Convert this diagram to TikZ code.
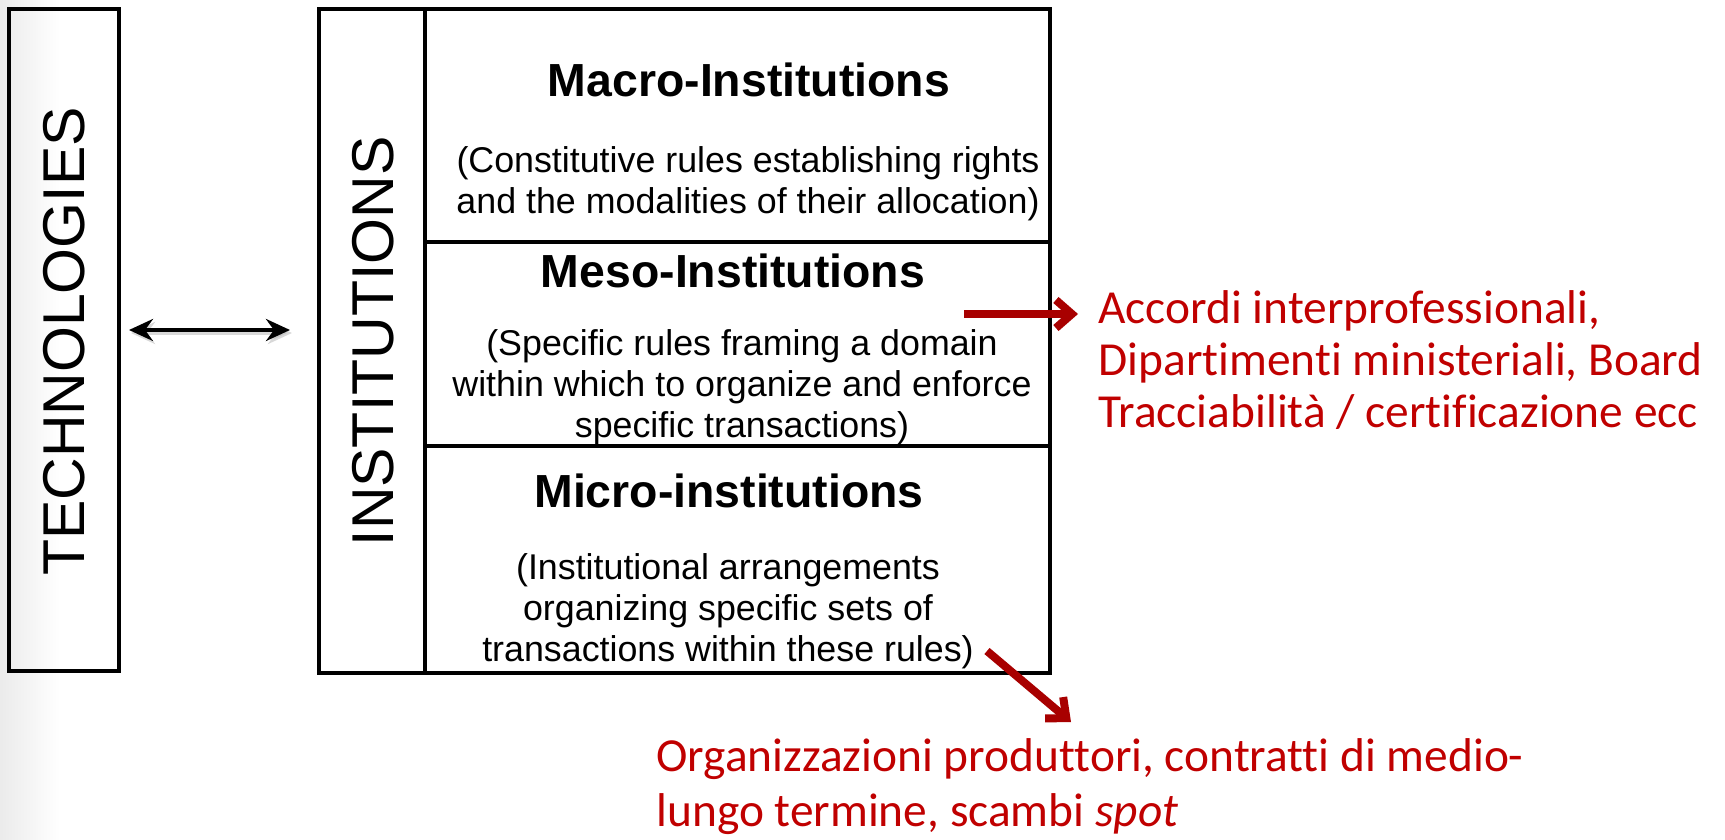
\documentclass[tikz,border=0pt]{standalone}
\usepackage{fontspec}
\setmainfont{Liberation Sans}
\newfontfamily\calibri[Ligatures=NoCommon]{Carlito}
\usetikzlibrary{arrows.meta}
\definecolor{redtxt}{RGB}{192,0,0}
\definecolor{redarrow}{RGB}{168,0,0}
\begin{document}
\begin{tikzpicture}[x=0.5pt,y=-0.5pt,
  frame/.style={draw, line width=2pt, inner sep=0pt},
  lvl/.style={frame, minimum width=312.5pt},
  title/.style={font=\fontsize{23.2}{27}\selectfont\bfseries, inner sep=0pt},
  desc/.style={font=\fontsize{17.9}{20.5}\selectfont, align=center, inner sep=0pt},
  side/.style={font=\fontsize{29.5}{32}\selectfont, rotate=90, inner sep=0pt},
  redlbl/.style={font=\calibri\fontsize{23.7}{26}\selectfont, text=redtxt, align=left, inner sep=0pt},
  redarr/.style={draw=redarrow, line width=4pt, -{Straight Barb[length=8pt,width=14pt,line width=4pt]}},
  biarr/.style={line width=2pt, {Stealth[length=12pt,width=11pt,inset=4pt]}-{Stealth[length=12pt,width=11pt,inset=4pt]}}
]
\useasboundingbox (0,0) rectangle (1725,840);
\shade[left color=black!8, right color=white] (0,0) rectangle (60,840);

\node[frame, minimum width=55pt, minimum height=331pt] (tech) at (64,340) {};
\node[side] (techl) at (64,341.5) {TECHNOLOGIES};

\node[frame, minimum width=53pt, minimum height=332pt] (inst) at (372,341) {};
\node[side] (instl) at (373,341.5) {INSTITUTIONS};

\node[lvl, minimum height=116.5pt] (macro) at (737.5,125.5) {};
\node[lvl, minimum height=102pt] (meso) at (737.5,344) {};
\node[lvl, minimum height=113.5pt] (micro) at (737.5,559.5) {};

\node[title] (macrot) at (749,80) {Macro-Institutions};
\node[desc] (macrod) at (748,184) {(Constitutive rules establishing rights\\and the modalities of their allocation)};

\node[title] (mesot) at (733,271) {Meso-Institutions};
\node[desc] (mesod) at (742,387) {(Specific rules framing a domain\\within which to organize and enforce\\specific transactions)};

\node[title] (microt) at (729,491) {Micro-institutions};
\node[desc] (microd) at (728,611) {(Institutional arrangements\\organizing specific sets of\\transactions within these rules)};

\node[redlbl, anchor=west] (meso r) at (1098,360) {Accordi interprofessionali,\\Dipartimenti ministeriali, Board\\Tracciabilità / certificazione ecc};
\node[redlbl, anchor=west, font=\calibri\fontsize{23.7}{27.5}\selectfont] (micro r) at (656,787) {Organizzazioni produttori, contratti di medio-\\lungo termine, scambi \textit{spot}};

\draw[biarr, draw=black!30, opacity=0.5, transform canvas={xshift=1pt,yshift=-1.5pt}] ([xshift=4pt,yshift=5pt]tech.east) -- ([xshift=-13.5pt,yshift=5.5pt]inst.west);
\draw[biarr] ([xshift=4pt,yshift=5pt]tech.east) -- ([xshift=-13.5pt,yshift=5.5pt]inst.west);

\coordinate (a1) at ([xshift=-44pt,yshift=15pt]meso.east);
\draw[redarr] (a1) -- ([xshift=-10pt]a1 -| meso r.west);
\draw[redarr] ([xshift=-32.5pt,yshift=12pt]micro.south east) -- ([xshift=9.5pt,yshift=-23.5pt]micro.south east);
\end{tikzpicture}
\end{document}
